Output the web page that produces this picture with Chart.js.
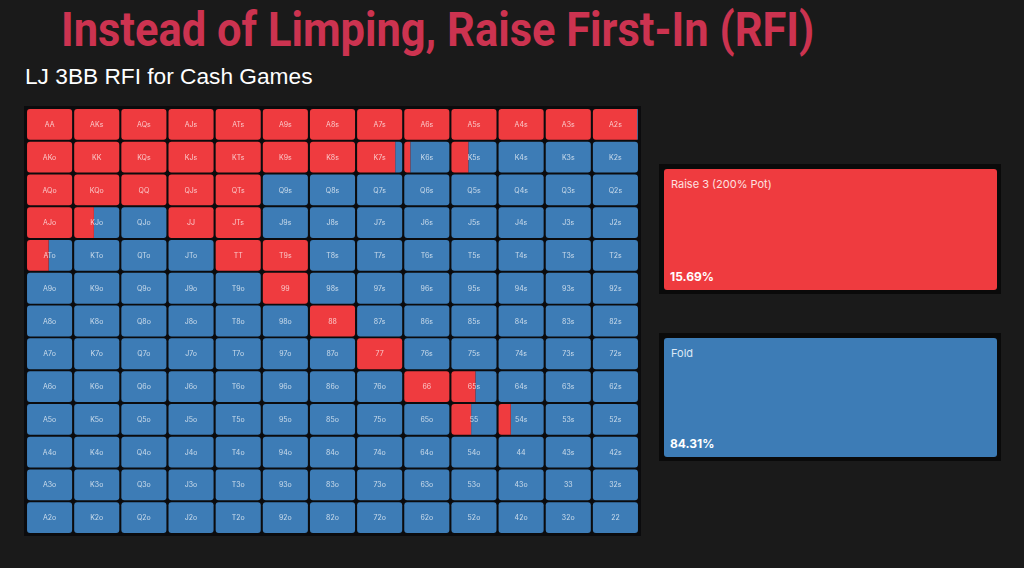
<!DOCTYPE html>
<html>
<head>
<meta charset="utf-8">
<script src="https://cdn.jsdelivr.net/npm/chart.js@4"></script>
<style>
  html, body { margin: 0; padding: 0; }
  body { width: 1024px; height: 568px; background: #1a1a1a; position: relative; overflow: hidden; font-family: "Inter", "Roboto", sans-serif; }
  #title { position: absolute; left: 61px; top: 1px; font-family: Roboto, sans-serif; font-weight: 700; font-size: 48px; color: #cc3350; white-space: nowrap; transform: scaleX(0.905); transform-origin: left top; }
  #subtitle { position: absolute; left: 25px; top: 63px; font-family: "Liberation Sans", Arial, sans-serif; font-size: 22.7px; color: #ffffff; white-space: nowrap; }
  #gridWrap { position: absolute; left: 24px; top: 106px; width: 617px; height: 430px; background: #0b0b0d; }
  .panel { position: absolute; left: 659px; width: 342px; background: #0a0a0a; }
  .panel .inner { position: absolute; left: 5px; top: 5px; right: 4px; bottom: 4px; border-radius: 3px; }
  .panel .name { position: absolute; left: 7px; top: 8px; font-size: 11px; }
  .panel .pct { position: absolute; left: 6px; bottom: 6px; font-size: 12px; font-weight: 700; color: #fff; }
</style>
</head>
<body>
<div id="title">Instead of Limping, Raise First-In (RFI)</div>
<div id="subtitle">LJ 3BB RFI for Cash Games</div>
<div id="gridWrap"><canvas id="rangeChart"></canvas></div>
<div class="panel" id="panelRaise" style="top:164px;height:130px;"></div>
<div class="panel" id="panelFold" style="top:333px;height:128px;"></div>
<script>
const ranks = ["A", "K", "Q", "J", "T", "9", "8", "7", "6", "5", "4", "3", "2"];
const actions = ["Raise 3 (200% Pot)", "Fold"];
const actionTotals = [15.69, 84.31];
const actionColors = ["#ef3b3f", "#3d7cb6"];

// raise frequency for each hand, rows/cols in ranks order (upper right = suited)
const raiseFreq = [
  [1, 1, 1, 1, 1, 1, 1, 1, 1, 1, 1, 1, 0.96],
  [1, 1, 1, 1, 1, 1, 1, 0.83, 0.15, 0.38, 0, 0, 0],
  [1, 1, 1, 1, 1, 0, 0, 0, 0, 0, 0, 0, 0],
  [1, 0.44, 0, 1, 1, 0, 0, 0, 0, 0, 0, 0, 0],
  [0.48, 0, 0, 0, 1, 1, 0, 0, 0, 0, 0, 0, 0],
  [0, 0, 0, 0, 0, 1, 0, 0, 0, 0, 0, 0, 0],
  [0, 0, 0, 0, 0, 0, 1, 0, 0, 0, 0, 0, 0],
  [0, 0, 0, 0, 0, 0, 0, 1, 0, 0, 0, 0, 0],
  [0, 0, 0, 0, 0, 0, 0, 0, 1, 0.53, 0, 0, 0],
  [0, 0, 0, 0, 0, 0, 0, 0, 0, 0.44, 0.28, 0, 0],
  [0, 0, 0, 0, 0, 0, 0, 0, 0, 0, 0, 0, 0],
  [0, 0, 0, 0, 0, 0, 0, 0, 0, 0, 0, 0, 0],
  [0, 0, 0, 0, 0, 0, 0, 0, 0, 0, 0, 0, 0]
];

function handName(r, c) {
  if (r === c) return ranks[r] + ranks[c];
  if (c > r) return ranks[r] + ranks[c] + "s";
  return ranks[c] + ranks[r] + "o";
}

// gap between cells, in column units
const pad = 0.022;

var raiseData = [];
var foldData = [];
for (var r = 0; r < ranks.length; r++) {
  for (var c = 0; c < ranks.length; c++) {
    var f = raiseFreq[r][c];
    if (f > 0) raiseData.push({ x: [c + pad, c + Math.min(f, 1 - pad)], y: ranks[r], full: f >= 1 });
    if (f < 1) foldData.push({ x: [c + Math.max(f, pad), c + 1 - pad], y: ranks[r], full: f <= 0 });
  }
}

var cellLabels = {
  id: "cellLabels",
  afterDatasetsDraw: function(chart) {
    var ctx = chart.ctx;
    var xs = chart.scales.x, ys = chart.scales.y;
    ctx.save();
    ctx.font = "7px Inter, sans-serif";
    ctx.fillStyle = "rgba(255,255,255,0.72)";
    ctx.textAlign = "center";
    ctx.textBaseline = "middle";
    for (var r = 0; r < ranks.length; r++) {
      for (var c = 0; c < ranks.length; c++) {
        ctx.fillText(handName(r, c), xs.getPixelForValue(c + 0.5), ys.getPixelForValue(r) + 0.5);
      }
    }
    ctx.restore();
  }
};

function radiusFor(side) {
  return function(context) {
    var d = context.raw;
    if (!d) return 0;
    if (d.full) return 3;
    return side === "left" ? { topLeft: 3, bottomLeft: 3, topRight: 0, bottomRight: 0 }
                           : { topLeft: 0, bottomLeft: 0, topRight: 3, bottomRight: 3 };
  };
}

var chart = new Chart(document.getElementById("rangeChart"), {
  type: "bar",
  data: {
    labels: ranks,
    datasets: [{
      label: actions[0],
      data: raiseData,
      backgroundColor: actionColors[0],
      borderWidth: 0,
      borderSkipped: false,
      borderRadius: radiusFor("left"),
      grouped: false,
      categoryPercentage: 1,
      barPercentage: 0.94
    }, {
      label: actions[1],
      data: foldData,
      backgroundColor: actionColors[1],
      borderWidth: 0,
      borderSkipped: false,
      borderRadius: radiusFor("right"),
      grouped: false,
      categoryPercentage: 1,
      barPercentage: 0.94
    }]
  },
  options: {
    indexAxis: "y",
    responsive: true,
    maintainAspectRatio: false,
    animation: false,
    layout: { padding: 2 },
    plugins: { legend: { display: false }, tooltip: { enabled: false } },
    scales: {
      x: { type: "linear", min: 0, max: ranks.length, display: false },
      y: { type: "category", display: false }
    }
  },
  plugins: [cellLabels]
});

// summary panels
["panelRaise", "panelFold"].forEach(function(id, i) {
  var p = document.getElementById(id);
  var inner = document.createElement("div");
  inner.className = "inner";
  inner.style.background = actionColors[i];
  inner.innerHTML = '<div class="name" style="color:' + (i === 0 ? "#fde0e0" : "#dce9f5") + '">' + actions[i] + '</div>' +
    '<div class="pct">' + actionTotals[i].toFixed(2) + '%</div>';
  p.appendChild(inner);
});
</script>
</body>
</html>
